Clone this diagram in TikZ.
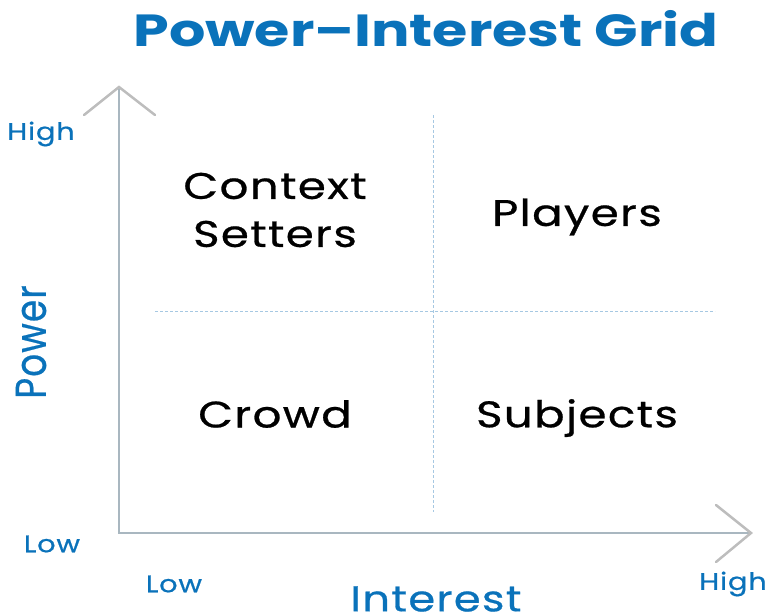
\documentclass[tikz,border=0pt]{standalone}
\usepackage{fontspec}
\setmainfont{Poppins}
\newfontfamily\medfont{Poppins}[FakeBold=0.6,LetterSpace=3]
\definecolor{tblue}{HTML}{0A72BA}
\definecolor{axisc}{HTML}{A9B7C0}
\definecolor{arrc}{HTML}{BDBDBD}
\definecolor{dotc}{HTML}{A6C8E2}
\begin{document}
\begin{tikzpicture}[x=1pt,y=-1pt,
  axisline/.style={draw=axisc,line width=2.5pt},
  chevron/.style={draw=arrc,line width=2.5pt,line cap=round,line join=miter},
  gridline/.style={draw=dotc,line width=1pt,dash pattern=on 3pt off 2pt},
  quad/.style={font=\medfont\fontsize{37}{48}\selectfont,align=center,text=black,xscale=1.22},
  lvl/.style={font=\medfont\fontsize{24}{28}\selectfont,text=tblue,xscale=1.2},
  axlab/.style={font=\medfont\fontsize{36}{40}\selectfont,text=tblue}]
\useasboundingbox (0,0) rectangle (769,616);
\node[font=\fontsize{45}{50}\selectfont\bfseries,text=tblue,xscale=1.27] (title) at (426,29) {Power–Interest Grid};
% axes
\coordinate (O) at (119,533);
\coordinate (ytop) at (119,87);
\coordinate (xend) at (751,533);
\draw[axisline] (ytop) -- (O) -- (xend);
\coordinate (yl) at (84,115);
\coordinate (yr) at (155,115);
\coordinate (xu) at (716,505);
\coordinate (xd) at (716,562);
\draw[chevron] (yl) -- (ytop) -- (yr);
\draw[chevron] (xu) -- (xend) -- (xd);
% grid
\coordinate (hl) at (155,311);
\coordinate (hr) at (715,311);
\coordinate (vt) at (433,115);
\coordinate (vb) at (433,512);
\draw[gridline] (hl) -- (hr);
\draw[gridline] (vt) -- (vb);
% quadrants
\node[quad] (cs) at (275,210) {Context\\Setters};
\node[quad] (pl) at (577,217) {Players};
\node[quad] (cr) at (275,414) {Crowd};
\node[quad] (sb) at (577,418) {Subjects};
% labels
\node[lvl] (yhigh) at (41,134) {High};
\node[lvl] (ylow) at (52,544) {Low};
\node[lvl] (xlow) at (174,584) {Low};
\node[lvl] (xhigh) at (733,584) {High};
\node[axlab,rotate=90,yscale=1.2] (pow) at (31,342) {Power};
\node[axlab,xscale=1.2] (int) at (436,599) {Interest};
\end{tikzpicture}
\end{document}
